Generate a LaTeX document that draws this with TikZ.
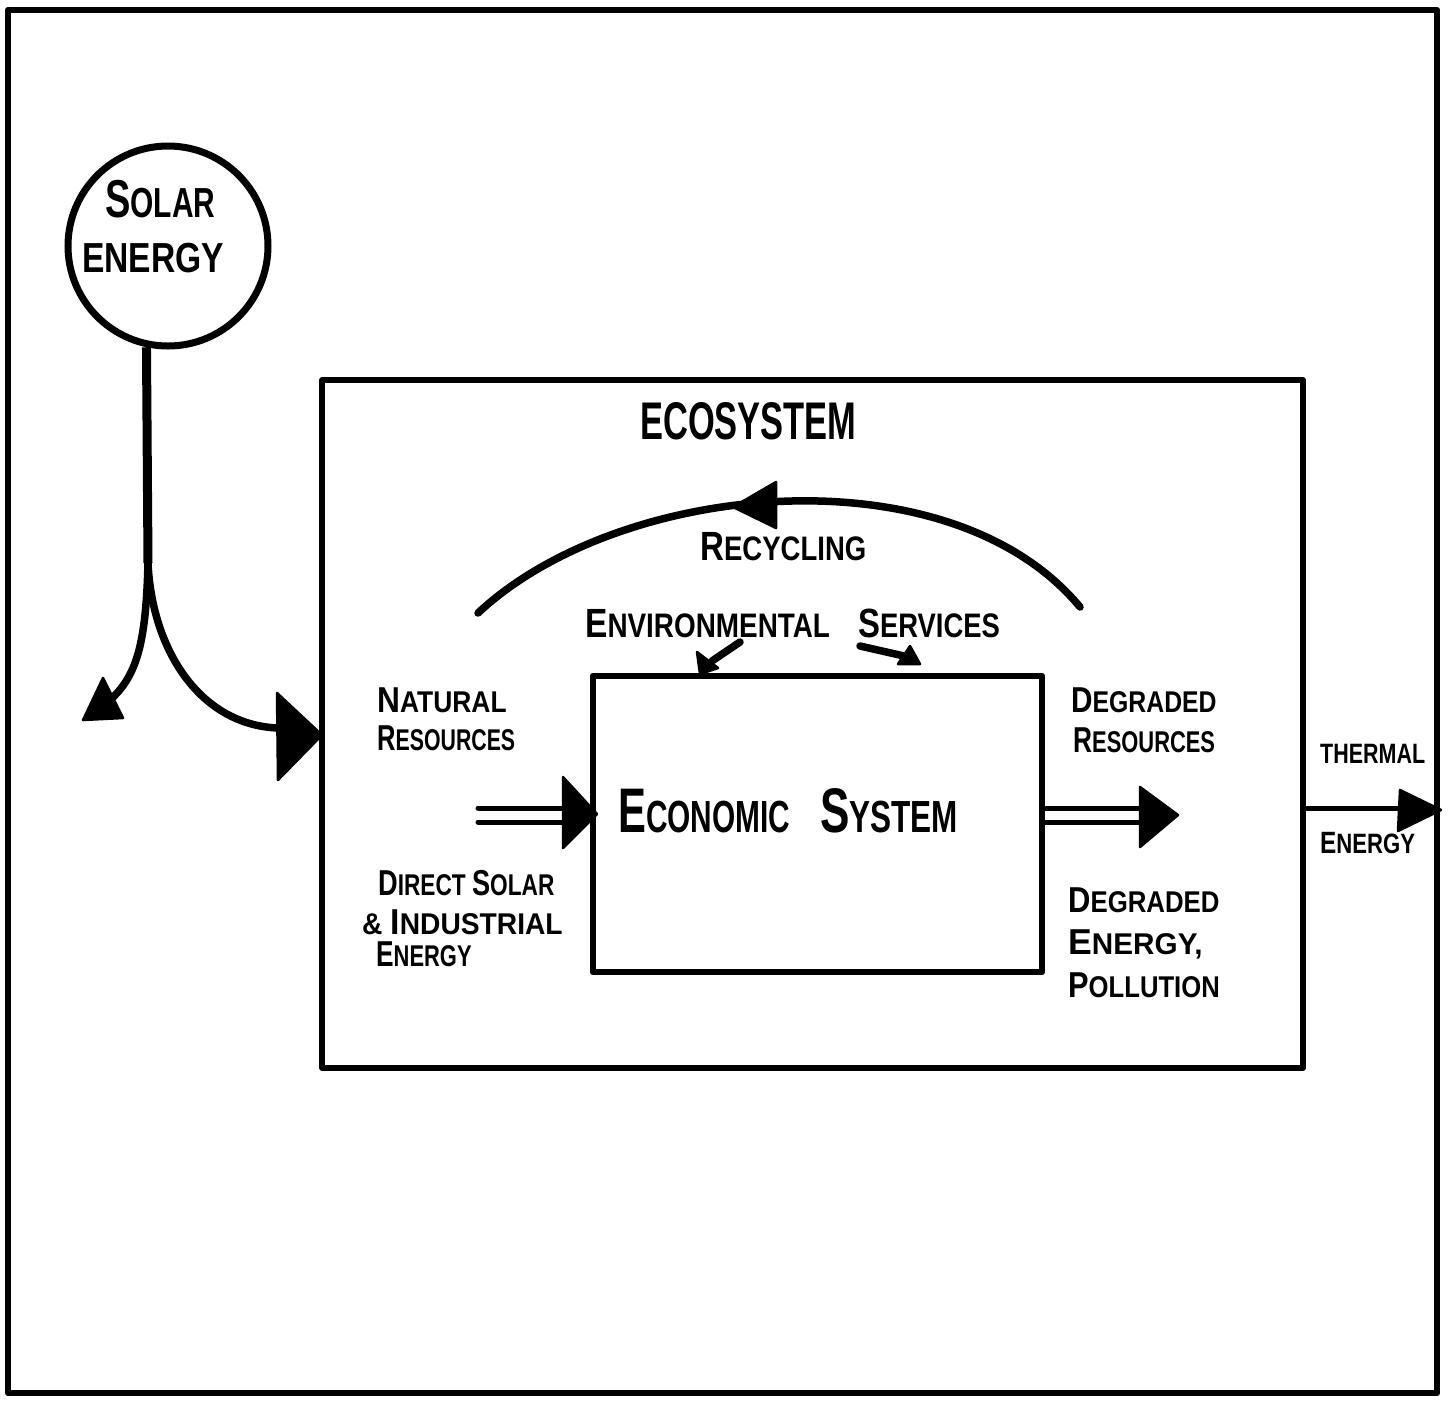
\documentclass[tikz,border=0pt]{standalone}
\usepackage{fontspec}
\setmainfont{Liberation Sans}
\usepackage{graphicx}
% larger initial capital, as in hand lettering
\newcommand\Ini[2][1.2]{\scalebox{#1}{#2}}
% horizontally narrowed lettering
\newcommand\hw[2]{\scalebox{#1}[1]{#2}}
\begin{document}
\begin{tikzpicture}[x=1pt,y=-1pt,
  ink/.style={line width=7.5pt, line cap=round, line join=round},
  thin ink/.style={line width=5pt, line cap=round, line join=round},
  head/.style={fill=black, draw=black, line width=2.5pt, line join=round},
  boxframe/.style={draw, rectangle, inner sep=0pt, line join=round},
  lbl/.style={inner sep=0pt, anchor=base west, font=\fontsize{#1}{#1}\selectfont\bfseries}]
\useasboundingbox (0,0) rectangle (1448,1401);

% outer frame
\draw[line width=6.5pt, line join=round] (8,10) rectangle (1437,1393);

% solar energy source
\node[draw, circle, line width=7pt, minimum size=200pt, inner sep=0pt] (solar) at (168,246) {};
\node[lbl=42] (tSolar) at (105,217) {\hw{0.713}{\Ini[1.27]{S}OLAR}};
\node[lbl=42] (tSolarE) at (82,272) {\hw{0.80}{ENERGY}};

% ecosystem and economic system
\node[boxframe, line width=5.5pt, minimum width=981pt, minimum height=688pt] (eco) at (812.5,724) {};
\node[boxframe, line width=6.5pt, minimum width=449pt, minimum height=296pt] (econ) at (817.5,824) {};
\node[inner sep=0pt, anchor=base west, font=\fontsize{53}{53}\selectfont\bfseries] (tEco) at (640,439) {\hw{0.65}{ECOSYSTEM}};
\node[lbl=45] (tEcon) at (618,832) {\hw{0.663}{\Ini[1.4]{E}CONOMIC}};
\node[lbl=45] (tSys) at (820,832) {\hw{0.70}{\Ini[1.4]{S}YSTEM}};

% split of the solar flow
\coordinate (split) at (148,563);
\coordinate (leftend) at (110,700);
\coordinate (natend) at (278,728);
\coordinate (natin) at (322,735);
\draw[line width=9pt] (solar.258) -- (split);
\draw[ink] (split) .. controls (146,640) and (138,675) .. (leftend);
\fill[head] (103,678) -- (83,720) -- (123,718) -- cycle;
\draw[ink] (split) .. controls (152,650) and (200,725) .. (natend);
\fill[head] (277,693) -- (278,780) -- (natin) -- cycle;

% recycling loop
\coordinate (recR) at (1080,607);
\coordinate (recL) at (478,613);
\draw[ink] (recR) .. controls (950,450) and (620,480) .. (recL);
\fill[head] (733,507) -- (776,482) -- (776,528) -- cycle;
\node[lbl=34] (tRec) at (700,560) {\hw{0.81}{\Ini{R}ECYCLING}};

% environmental services
\node[lbl=34] (tEnv) at (585,637) {\hw{0.82}{\Ini{E}NVIRONMENTAL}};
\node[lbl=34] (tServ) at (858,637) {\hw{0.806}{\Ini{S}ERVICES}};
\coordinate (esL) at (740,642);
\coordinate (esLend) at (712,661);
\draw[ink] (esL) -- (esLend);
\fill[head] (697,652) -- (700,674) -- (718,668) -- cycle;
\coordinate (esR) at (860,646);
\coordinate (esRend) at (904,656);
\draw[ink] (esR) -- (esRend);
\fill[head] (898,664) -- (920,664) -- (910,646) -- cycle;

% inputs
\coordinate (inA) at (478,808);
\coordinate (inB) at (478,822);
\draw[thin ink] (inA) -- (565,808);
\draw[thin ink] (inB) -- (565,822);
\fill[head] (563,777) -- (563,848) -- (597,814) -- cycle;
\node[lbl=30] (tNat) at (377,712) {\hw{0.88}{\Ini{N}ATURAL}};
\node[lbl=30] (tRes) at (377,750) {\hw{0.71}{\Ini{R}ESOURCES}};
\node[lbl=30] (tDir) at (378,895) {\hw{0.755}{\Ini{D}IRECT \Ini{S}OLAR}};
\node[lbl=30] (tInd) at (362,934) {\hw{0.94}{\& \Ini{I}NDUSTRIAL}};
\node[lbl=30] (tEn) at (376,966) {\hw{0.73}{\Ini{E}NERGY}};

% outputs
\coordinate (outA) at (1044,808);
\coordinate (outB) at (1044,822);
\draw[thin ink] (outA) -- (1142,808);
\draw[thin ink] (outB) -- (1142,822);
\fill[head] (1140,787) -- (1140,847) -- (1178,815) -- cycle;
\node[lbl=30] (tDeg) at (1071,712) {\hw{0.826}{\Ini{D}EGRADED}};
\node[lbl=30] (tDres) at (1073,752) {\hw{0.73}{\Ini{R}ESOURCES}};
\node[lbl=30] (tDeg2) at (1068,912) {\hw{0.86}{\Ini{D}EGRADED}};
\node[lbl=30] (tDen) at (1068,954) {\hw{0.99}{\Ini{E}NERGY,}};
\node[lbl=30] (tPol) at (1068,997) {\hw{0.855}{\Ini{P}OLLUTION}};

% thermal energy leaving the ecosystem
\coordinate (thA) at (1305,808);
\coordinate (thB) at (1400,808);
\draw[thin ink] (thA) -- (thB);
\fill[head] (1400,790) -- (1398,831) -- (1441,810) -- cycle;
\node[lbl=28] (tTh) at (1320,763) {\hw{0.767}{THERMAL}};
\node[lbl=28] (tThE) at (1320,853) {\hw{0.79}{\Ini[1.1]{E}NERGY}};
\end{tikzpicture}
\end{document}
